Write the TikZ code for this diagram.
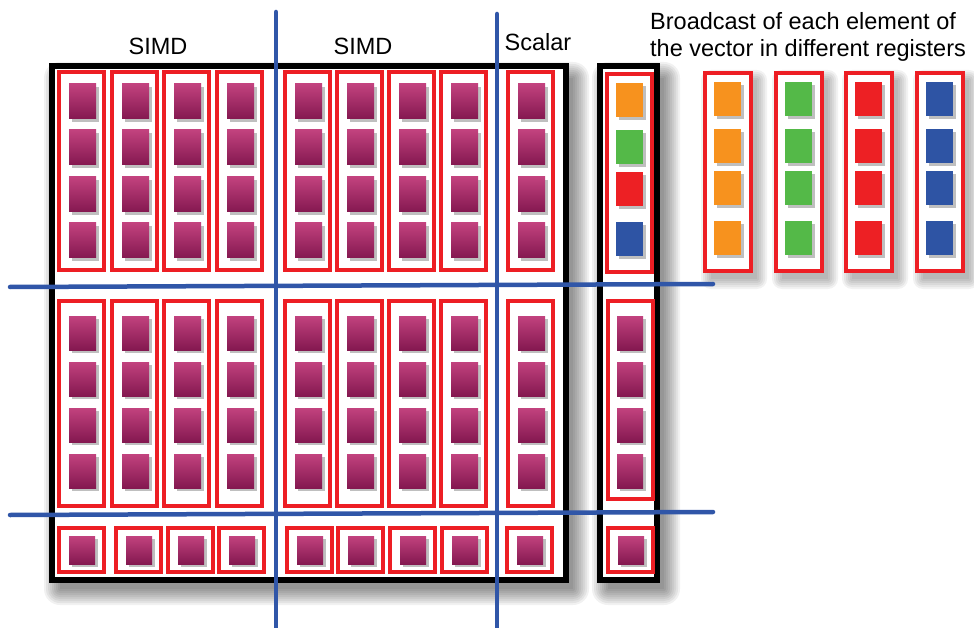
\documentclass[tikz,border=0pt]{standalone}
\usepackage{fontspec}
\setmainfont{Liberation Sans}
\definecolor{regred}{RGB}{237,30,36}
\definecolor{divblue}{RGB}{48,86,168}
\definecolor{magtop}{RGB}{194,66,126}
\definecolor{magbot}{RGB}{132,24,80}
\definecolor{elorange}{RGB}{247,146,30}
\definecolor{elgreen}{RGB}{84,185,72}
\definecolor{elred}{RGB}{237,32,36}
\definecolor{elblue}{RGB}{46,84,164}
\begin{document}
\begin{tikzpicture}[x=1pt,y=-1pt,
  blackbox/.style={draw=black, line width=5.5pt, fill=white},
  regbox/.style={draw=regred, line width=3.5pt, fill=white},
  elem/.style={top color=magtop, bottom color=magbot, draw=none},
  eshadow/.style={fill=black!25},
  divider/.style={draw=divblue, line width=4.5pt, line cap=round},
  lbl/.style={font=\fontsize{23.5}{27}\selectfont, inner sep=0pt}]
\useasboundingbox (0,0) rectangle (974,628);
\fill[white] (0,0) rectangle (974,628);

% soft shadows of the black frames
\foreach \r in {0,2,...,16} {
  \fill[black, opacity=0.055, rounded corners=\r pt] (60-\r,78-\r) rectangle (573+\r,589+\r);
  \fill[black, opacity=0.055, rounded corners=\r pt] (608-\r,78-\r) rectangle (664+\r,589+\r);
}
% soft shadows of the broadcast registers
\foreach \bx in {705,776,846,917} {
  \foreach \r in {0,2,...,10} {
    \fill[black, opacity=0.05, rounded corners=\r pt] (\bx+6-\r,80-\r) rectangle (\bx+52+\r,279+\r);
  }
}

% black frames
\draw[blackbox] (52,66) rectangle (566,580);
\draw[blackbox] (600,66) rectangle (657,580);

% ---------- top section ----------
\foreach \bx in {59,112,164,217,285,337,389,441,508} {
  \draw[regbox] (\bx,72) rectangle (\bx+45,270);
  \foreach \ey in {84,130,177,223} {
    \fill[eshadow] (\bx+13,\ey+3) rectangle (\bx+40,\ey+38);
    \fill[elem] (\bx+10,\ey) rectangle (\bx+37,\ey+35);
  }
}
% vector in second frame
\draw[regbox] (607,74) rectangle (652,272);
\foreach \ey/\ec in {83/elorange,130/elgreen,172/elred,222/elblue} {
  \fill[eshadow] (619,\ey+3) rectangle (646,\ey+37);
  \fill[\ec] (616,\ey) rectangle (643,\ey+34);
}
% broadcast registers
\foreach \bx/\ec in {705/elorange,776/elgreen,846/elred,917/elblue} {
  \draw[regbox] (\bx,73) rectangle (\bx+46,271);
  \foreach \ey in {82,129,171,221} {
    \fill[eshadow] (\bx+12,\ey+3) rectangle (\bx+39,\ey+37);
    \fill[\ec] (\bx+9,\ey) rectangle (\bx+36,\ey+34);
  }
}

% ---------- middle section ----------
\foreach \bx in {59,112,164,217,285,337,389,441,508} {
  \draw[regbox] (\bx,301) rectangle (\bx+45,506);
  \foreach \ey in {316,362,408,454} {
    \fill[eshadow] (\bx+13,\ey+3) rectangle (\bx+40,\ey+37);
    \fill[elem] (\bx+10,\ey) rectangle (\bx+37,\ey+34);
  }
}
\draw[regbox] (608,301) rectangle (653,499);
\foreach \ey in {316,362,408,454} {
  \fill[eshadow] (620,\ey+3) rectangle (646,\ey+37);
  \fill[elem] (617,\ey) rectangle (643,\ey+34);
}

% ---------- bottom section ----------
\foreach \bx in {59,116,168,219,287,338,390,442,507,608} {
  \draw[regbox] (\bx,528) rectangle (\bx+45,572);
  \fill[eshadow] (\bx+13,539) rectangle (\bx+39,567);
  \fill[elem] (\bx+10,536) rectangle (\bx+36,564);
}

% ---------- dividers ----------
\coordinate (v1t) at (276,12);  \coordinate (v1b) at (276,628);
\coordinate (v2t) at (497,14);  \coordinate (v2b) at (497,628);
\coordinate (h1l) at (10,287);  \coordinate (h1r) at (713,284);
\coordinate (h2l) at (10,515);  \coordinate (h2r) at (713,512);
\draw[divider] (v1t) -- (v1b);
\draw[divider] (v2t) -- (v2b);
\draw[divider] (h1l) -- (h1r);
\draw[divider] (h2l) -- (h2r);

% ---------- labels ----------
\node[lbl, anchor=base] (simd1) at (158,55) {SIMD};
\node[lbl, anchor=base] (simd2) at (363,55) {SIMD};
\node[lbl, anchor=base] (scal) at (538,51) {Scalar};
\node[lbl, anchor=base west] (bc1) at (650,30) {Broadcast of each element of};
\node[lbl, anchor=base west] (bc2) at (650,57) {the vector in different registers};
\end{tikzpicture}
\end{document}
